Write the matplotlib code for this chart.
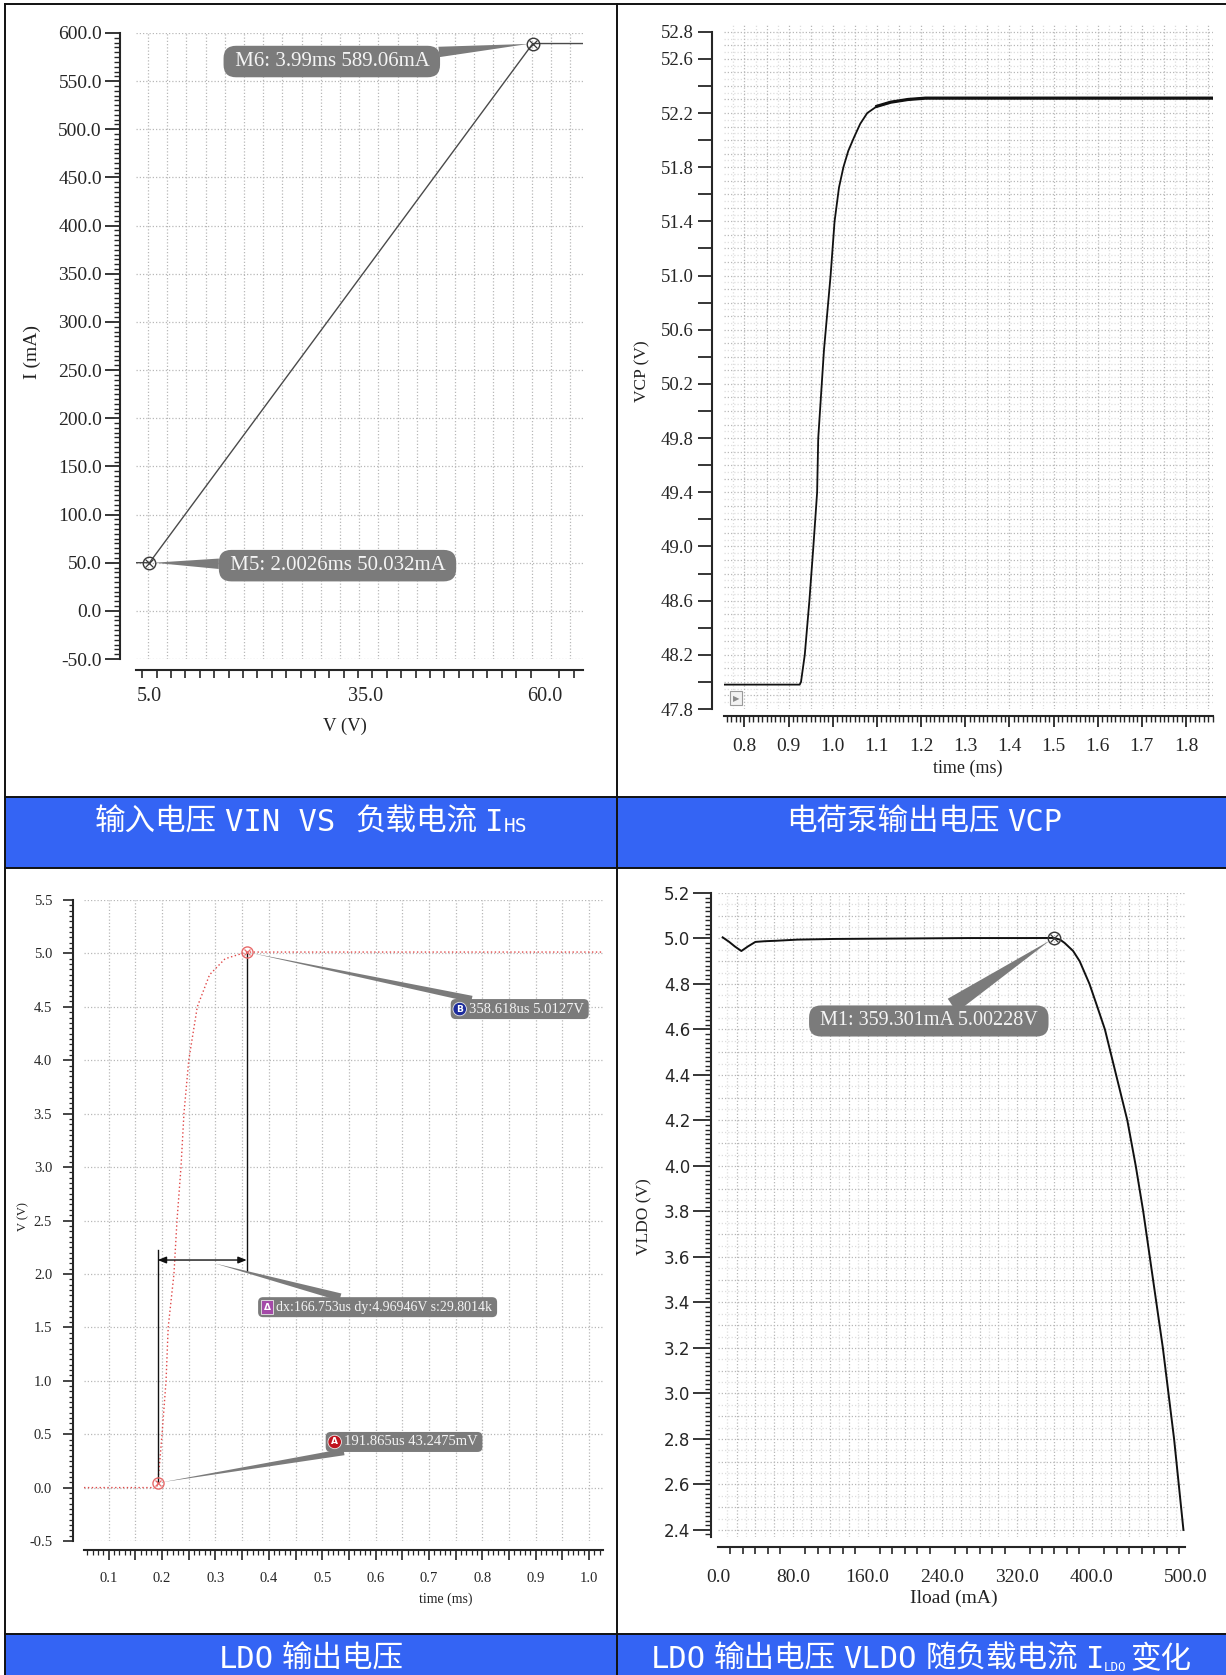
import numpy as np
import matplotlib
matplotlib.use("Agg")
import matplotlib.pyplot as plt
from matplotlib.ticker import FixedLocator, FixedFormatter, MultipleLocator, FuncFormatter
from matplotlib.patches import Rectangle, FancyBboxPatch
from matplotlib.transforms import IdentityTransform

W, H = 1226, 1675
plt.rcParams['font.family'] = ['Liberation Serif', 'DejaVu Serif']
CAP_FONT = ['DejaVu Sans Mono', 'Noto Sans CJK SC']

# ------------------------------------------------------------------
# data
# ------------------------------------------------------------------
# panel 1: VIN vs IHS
vin_v = [3.12, 5.0, 58.3, 65.2]
ihs_ma = [50.0, 50.03, 589.06, 589.06]
p1_marker_v = [5.0, 58.3]
p1_marker_i = [50.032, 589.06]
p1_marker_text = ["M5: 2.0026ms 50.032mA", "M6: 3.99ms 589.06mA"]
p1_yticks = [-50, 0, 50, 100, 150, 200, 250, 300, 350, 400, 450, 500, 550, 600]
p1_xticks = [5.0, 35.0, 60.0]

# panel 2: charge pump VCP
vcp_t = [0.7527, 0.925, 0.928, 0.9365, 0.947, 0.956, 0.9645, 0.967, 0.98, 0.995,
         1.004, 1.014, 1.024, 1.035, 1.048, 1.062, 1.078, 1.10, 1.131, 1.17,
         1.21, 1.30, 1.50, 1.70, 1.861]
vcp_v = [47.98, 47.98, 48.0, 48.2, 48.6, 49.0, 49.4, 49.8, 50.45, 51.0,
         51.4, 51.65, 51.8, 51.92, 52.02, 52.12, 52.2, 52.25, 52.28, 52.3,
         52.31, 52.31, 52.31, 52.31, 52.31]
vcp_settled_from = 17   # index where the noisy plateau starts
p2_yticks = [47.8, 48.0, 48.2, 48.4, 48.6, 48.8, 49.0, 49.2, 49.4, 49.6, 49.8, 50.0, 50.2,
             50.4, 50.6, 50.8, 51.0, 51.2, 51.4, 51.6, 51.8, 52.0, 52.2, 52.4, 52.6, 52.8]
p2_ylabels = ["47.8", "", "48.2", "", "48.6", "", "49.0", "", "49.4", "", "49.8", "", "50.2",
              "", "50.6", "", "51.0", "", "51.4", "", "51.8", "", "52.2", "", "52.6", "52.8"]
p2_xticks = [0.8, 0.9, 1.0, 1.1, 1.2, 1.3, 1.4, 1.5, 1.6, 1.7, 1.8]

# panel 3: LDO start-up
ldo_t = [0.0538, 0.19, 0.1919, 0.195, 0.200, 0.2075, 0.2115, 0.2223, 0.228, 0.2355,
         0.241, 0.250, 0.266, 0.289, 0.318, 0.3586, 1.026]
ldo_v = [0.0, 0.0, 0.043, 0.2, 0.5, 1.0, 1.5, 2.0, 2.5, 3.0,
         3.5, 4.0, 4.5, 4.8, 4.95, 5.0127, 5.0127]
mark_a = (0.191865, 0.0432475)
mark_b = (0.358618, 5.0127)
delta_y = 2.13
delta_tip = (0.29, 2.11)
line_a_top = 2.22
line_b_bottom = 2.03
p3_yticks = [-0.5, 0.0, 0.5, 1.0, 1.5, 2.0, 2.5, 3.0, 3.5, 4.0, 4.5, 5.0, 5.5]

# panel 4: VLDO vs Iload
iload = [5, 12, 18, 25, 32, 40, 50, 62, 85, 124, 200, 268, 330, 359.3, 366, 371, 380,
         387, 397.5, 405, 414, 426, 438, 447, 455, 462, 469, 476, 482, 488, 493, 498]
vldo = [5.005, 4.985, 4.965, 4.945, 4.965, 4.985, 4.988, 4.99, 4.995, 4.998, 5.0, 5.002, 5.002,
        5.00228, 4.995, 4.98, 4.945, 4.9, 4.8, 4.71, 4.6, 4.4, 4.2, 4.0, 3.8, 3.6, 3.4, 3.2,
        3.0, 2.8, 2.6, 2.4]
mark_m1 = (359.301, 5.00228)
p4_xticks = [0, 80, 160, 240, 320, 400, 500]
p4_yticks = [2.4, 2.6, 2.8, 3.0, 3.2, 3.4, 3.6, 3.8, 4.0, 4.2, 4.4, 4.6, 4.8, 5.0, 5.2]

# caption pieces: (text, size, baseline shift px, gap before px)
captions = {
    "tl": [("输入电压", 22, 0, 0), ("VIN VS", 22, 0, 8), ("负载电流", 22, 0, 20),
           ("I", 22, 0, 8), ("HS", 14, 1, 0)],
    "tr": [("电荷泵输出电压", 22, 0, 0), ("VCP", 22, 0, 8)],
    "bl": [("LDO", 22, 0, 0), ("输出电压", 22, 0, 8)],
    "br": [("LDO", 22, 0, 0), ("输出电压", 22, 0, 8), ("VLDO", 22, 0, 8),
           ("随负载电流", 22, 0, 8), ("I", 22, 0, 8), ("LDO", 9, 3, 0), ("变化", 22, 0, 4)],
}

# ------------------------------------------------------------------
# helpers
# ------------------------------------------------------------------
fig = plt.figure(figsize=(W / 100, H / 100), dpi=100)
bg = fig.add_axes([0, 0, 1, 1], zorder=0)
bg.set_xlim(0, W)
bg.set_ylim(H, 0)
bg.axis('off')
renderer = fig.canvas.get_renderer()

GRID = '#b8b8b8'
GRID_LIGHT = '#dedede'
BOX = '#7b7b7b'
TICK = '#262626'


def px_axes(l, t, r, b):
    ax = fig.add_axes([l / W, 1 - b / H, (r - l) / W, (b - t) / H], zorder=1)
    ax.set_facecolor('none')
    ax.spines[['top', 'right']].set_visible(False)
    return ax


def spines(ax, left_px, bottom_px):
    ax.spines['left'].set_position(('outward', left_px * 0.72))
    ax.spines['bottom'].set_position(('outward', bottom_px * 0.72))
    for s in ('left', 'bottom'):
        ax.spines[s].set_linewidth(1.5)
        ax.spines[s].set_color(TICK)


def grid(ax, xs, ys, color=GRID, lw=0.9):
    for x in xs:
        ax.axvline(x, color=color, lw=lw, ls=(0, (1, 1.6)), zorder=0)
    for y in ys:
        ax.axhline(y, color=color, lw=lw, ls=(0, (1, 1.6)), zorder=0)


def callout(ax, xy, text, offset, size, tail=0.6):
    ax.annotate(text, xy=xy, xytext=offset, textcoords='offset pixels',
                ha='center', va='center', fontsize=size, color='#f4f4f4',
                bbox=dict(boxstyle='round,pad=0.3,rounding_size=0.6', fc=BOX, ec='none'),
                arrowprops=dict(arrowstyle=f'wedge,tail_width={tail},shrink_factor=0.5',
                                fc=BOX, ec='none', shrinkA=0, shrinkB=3),
                zorder=6, annotation_clip=False)


def badge_callout(ax, xy, text, offset, size, char, color, shape='circle', tail=0.45):
    # label text, then a grey box sized around it with room for the badge on the left
    t = ax.annotate(text, xy=xy, xytext=offset, textcoords='offset pixels',
                    ha='left', va='center', fontsize=size, color='#f4f4f4',
                    zorder=8, annotation_clip=False)
    bb = t.get_window_extent(renderer)
    x0, x1 = bb.x0 - 18, bb.x1 + 5
    y0, y1 = bb.y0 - 3.5, bb.y1 + 3.5
    box = FancyBboxPatch((x0, y0), x1 - x0, y1 - y0,
                         boxstyle='round,pad=0,rounding_size=5', fc=BOX, ec='none',
                         transform=IdentityTransform(), zorder=6, clip_on=False)
    ax.add_patch(box)
    ax.annotate("", xy=xy, xytext=((x0 + x1) / 2, (y0 + y1) / 2), textcoords='figure pixels',
                arrowprops=dict(arrowstyle=f'wedge,tail_width={tail},shrink_factor=0.5',
                                fc=BOX, ec='none', patchA=box, shrinkA=0, shrinkB=3,
                                mutation_scale=size),
                zorder=5, annotation_clip=False)
    ax.annotate(char, xy=xy, xytext=(x0 + 9, (y0 + y1) / 2), textcoords='figure pixels',
                ha='center', va='center', fontsize=6.5, color='white', fontweight='bold',
                family='DejaVu Sans',
                bbox=dict(boxstyle=f'{shape},pad=0.25', fc=color, ec='#e8e8e8', lw=0.6),
                zorder=9, annotation_clip=False)


def cross_marker(ax, x, y, color, size=9):
    ax.plot(x, y, 'o', ms=size, mfc='none', mec=color, mew=1.0, zorder=5)
    ax.plot(x, y, 'x', ms=size * 0.62, mec=color, mew=0.9, zorder=5)


def axis_text(ax, x, y, s, size, rot=0):
    ax.text(x, y, s, transform=ax.transAxes, ha='center', va='center',
            fontsize=size, rotation=rot, color='#222')


# ------------------------------------------------------------------
# frame and caption bands
# ------------------------------------------------------------------
BLUE = '#3464f4'
bg.add_patch(Rectangle((5, 797), W - 5, 71, fc=BLUE, ec='none', zorder=1))
bg.add_patch(Rectangle((5, 1634), W - 5, H - 1634, fc=BLUE, ec='none', zorder=1))
for y in (4, 797, 868, 1634):
    bg.plot([5, W], [y, y], color='#111', lw=1.4, zorder=3)
bg.plot([5, 5], [4, H], color='#111', lw=1.4, zorder=3)
bg.plot([617, 617], [4, H], color='#111', lw=1.4, zorder=3)


def caption(xc, base, parts):
    items = []
    for s, size, dy, gap in parts:
        t = bg.text(0, 0, s, fontsize=size, color='white', family=CAP_FONT,
                    ha='left', va='baseline', zorder=4)
        items.append((t, t.get_window_extent(renderer).width, dy, gap))
    x = xc - sum(w + g for _, w, _, g in items) / 2
    for t, w, dy, gap in items:
        x += gap
        t.set_position((x, base + dy))
        x += w


caption(311, 831, captions["tl"])
caption(924, 831, captions["tr"])
caption(311, 1668, captions["bl"])
caption(921, 1668, captions["br"])

# ------------------------------------------------------------------
# panel 1
# ------------------------------------------------------------------
ax1 = px_axes(136, 33, 583, 659)
ax1.set_xlim(3.123, 65.28)
ax1.set_ylim(-50, 600)
spines(ax1, 16, 11)
grid(ax1, np.linspace(4.8, 63.5, 23), p1_yticks)
ax1.plot(vin_v, ihs_ma, color='#4a4a4a', lw=1.0, zorder=3)
cross_marker(ax1, p1_marker_v, p1_marker_i, '#3a3a3a')
ax1.yaxis.set_major_locator(FixedLocator(p1_yticks))
ax1.yaxis.set_major_formatter(FixedFormatter([f"{v:.1f}" for v in p1_yticks]))
ax1.yaxis.set_minor_locator(MultipleLocator(5))
ax1.xaxis.set_major_locator(FixedLocator(p1_xticks))
ax1.xaxis.set_major_formatter(FixedFormatter([f"{v:.1f}" for v in p1_xticks]))
ax1.xaxis.set_minor_locator(FixedLocator(np.arange(4, 65, 2)))
ax1.tick_params(axis='y', which='major', length=11, width=1.3, pad=2, labelsize=14,
                colors=TICK)
ax1.tick_params(axis='y', which='minor', length=4, width=1.0, colors=TICK)
ax1.tick_params(axis='x', which='major', length=0, pad=12, labelsize=14.5, colors=TICK)
ax1.tick_params(axis='x', which='minor', length=6, width=1.2, colors=TICK)
axis_text(ax1, -0.233, 0.49, "I (mA)", 14, 90)
axis_text(ax1, 0.468, -0.107, "V (V)", 13.5)
callout(ax1, (p1_marker_v[0], p1_marker_i[0]), f" {p1_marker_text[0]} ", (188, -3), 15, 0.5)
callout(ax1, (p1_marker_v[1], p1_marker_i[1]), f" {p1_marker_text[1]} ", (-201, -18), 15, 0.5)

# ------------------------------------------------------------------
# panel 2
# ------------------------------------------------------------------
ax2 = px_axes(723.6, 25, 1213, 709)
ax2.set_xlim(0.7527, 1.861)
ax2.set_ylim(47.8, 52.85)
spines(ax2, 12, 7)
ax2.spines['left'].set_bounds(47.8, 52.8)
grid(ax2, np.arange(0.775, 1.86, 0.05), np.arange(47.85, 52.85, 0.1), GRID_LIGHT)
grid(ax2, np.arange(0.8, 1.86, 0.05), np.arange(47.9, 52.85, 0.1))
ax2.plot(vcp_t, vcp_v, color='#111', lw=1.3, zorder=3)
ax2.plot(vcp_t[vcp_settled_from:], vcp_v[vcp_settled_from:], color='#111', lw=2.3, zorder=3)
ax2.yaxis.set_major_locator(FixedLocator(p2_yticks))
ax2.yaxis.set_major_formatter(FixedFormatter(p2_ylabels))
ax2.xaxis.set_major_locator(FixedLocator(p2_xticks))
ax2.xaxis.set_major_formatter(FixedFormatter([f"{v:.1f}" for v in p2_xticks]))
ax2.xaxis.set_minor_locator(MultipleLocator(0.01))
ax2.tick_params(axis='y', which='major', length=10, width=1.3, pad=3, labelsize=13.5,
                colors=TICK)
ax2.tick_params(axis='x', which='major', length=8, width=1.3, pad=8, labelsize=14,
                colors=TICK)
ax2.tick_params(axis='x', which='minor', length=4, width=1.0, colors=TICK)
axis_text(ax2, -0.165, 0.494, "VCP (V)", 12.5, 90)
axis_text(ax2, 0.4995, -0.0863, "time (ms)", 13)
ax2.text(0.025, 0.016, "\u25b6", transform=ax2.transAxes, ha='center', va='center',
         fontsize=6, color='#8a8a8a', family='DejaVu Sans',
         bbox=dict(boxstyle='square,pad=0.35', fc='#f2f2f2', ec='#9a9a9a', lw=0.8))

# ------------------------------------------------------------------
# panel 3
# ------------------------------------------------------------------
ax3 = px_axes(84, 900, 603, 1541)
ax3.set_xlim(0.0538, 1.026)
ax3.set_ylim(-0.5, 5.5)
spines(ax3, 11, 9)
grid(ax3, np.arange(0.05, 1.03, 0.05), p3_yticks)
ax3.plot(ldo_t, ldo_v, color='#e04848', lw=1.0, ls=(0, (1, 1.8)), zorder=3)
ax3.plot([mark_a[0], mark_a[0]], [mark_a[1], line_a_top], color='#111', lw=1.0, zorder=4)
ax3.plot([mark_b[0], mark_b[0]], [line_b_bottom, mark_b[1]], color='#111', lw=1.0, zorder=4)
ax3.annotate("", xy=(mark_a[0], delta_y), xytext=(mark_b[0], delta_y),
             arrowprops=dict(arrowstyle='<|-|>,head_length=0.5,head_width=0.2',
                             color='#111', lw=1.0, shrinkA=0, shrinkB=0), zorder=4)
cross_marker(ax3, [mark_a[0], mark_b[0]], [mark_a[1], mark_b[1]], '#e86a6a', size=8)
ax3.yaxis.set_major_locator(FixedLocator(p3_yticks))
ax3.yaxis.set_major_formatter(FixedFormatter([f"{v:.1f}" for v in p3_yticks]))
ax3.yaxis.set_minor_locator(MultipleLocator(0.05))
ax3.xaxis.set_major_locator(MultipleLocator(0.05))
ax3.xaxis.set_major_formatter(
    FuncFormatter(lambda v, p: f"{v:.1f}" if round(v / 0.05) % 2 == 0 else ""))
ax3.xaxis.set_minor_locator(MultipleLocator(0.01))
ax3.tick_params(axis='y', which='major', length=7, width=1.2, pad=8, labelsize=10.5,
                colors=TICK)
ax3.tick_params(axis='y', which='minor', length=3, width=0.9, colors=TICK)
ax3.tick_params(axis='x', which='major', length=7, width=1.2, pad=9, labelsize=10.5,
                colors=TICK)
ax3.tick_params(axis='x', which='minor', length=3.5, width=0.9, colors=TICK)
axis_text(ax3, -0.1175, 0.5055, "V (V)", 9, 90)
axis_text(ax3, 0.6975, -0.0905, "time (ms)", 10)
badge_callout(ax3, mark_b, "358.618us 5.0127V", (222, -57), 10.5, "B", '#1d2c9c')
badge_callout(ax3, delta_tip, "dx:166.753us dy:4.96946V s:29.8014k", (66, -45), 10,
              "\u0394", '#a44aa8', 'square', 0.55)
badge_callout(ax3, mark_a, "191.865us 43.2475mV", (186, 41), 10.5, "A", '#c0141e')

# ------------------------------------------------------------------
# panel 4
# ------------------------------------------------------------------
ax4 = px_axes(718, 893, 1185.3, 1537)
ax4.set_xlim(0, 500)
ax4.set_ylim(2.369, 5.2)
spines(ax4, 7, 10)
grid(ax4, np.arange(10, 500, 20), np.arange(2.45, 5.2, 0.1), GRID_LIGHT)
grid(ax4, np.arange(20, 500, 20), np.arange(2.4, 5.21, 0.1))
ax4.plot(iload, vldo, color='#111', lw=1.4, zorder=3)
cross_marker(ax4, [mark_m1[0]], [mark_m1[1]], '#3a3a3a')
ax4.yaxis.set_major_locator(FixedLocator(p4_yticks))
ax4.yaxis.set_major_formatter(FixedFormatter([f"{v:.1f}" for v in p4_yticks]))
ax4.yaxis.set_minor_locator(MultipleLocator(0.02))
ax4.xaxis.set_major_locator(FixedLocator(p4_xticks))
ax4.xaxis.set_major_formatter(FixedFormatter([f"{v:.1f}" for v in p4_xticks]))
ax4.xaxis.set_minor_locator(FixedLocator(np.arange(80 / 6, 500, 80 / 6)))
ax4.tick_params(axis='y', which='major', length=13, width=1.3, pad=2, labelsize=12,
                colors=TICK)
ax4.tick_params(axis='y', which='minor', length=4, width=1.0, colors=TICK)
ax4.tick_params(axis='x', which='major', length=0, pad=16, labelsize=14, colors=TICK)
ax4.tick_params(axis='x', which='minor', length=5, width=1.2, colors=TICK)
for lab in ax4.get_yticklabels():
    lab.set_fontfamily('DejaVu Sans')
axis_text(ax4, -0.158, 0.497, "VLDO (V)", 12.5, 90)
axis_text(ax4, 0.505, -0.0947, "Iload (mA)", 14)
callout(ax4, mark_m1, " M1: 359.301mA 5.00228V ", (-125, -83), 14.5, 0.8)

fig.savefig("out.png", dpi=100)
